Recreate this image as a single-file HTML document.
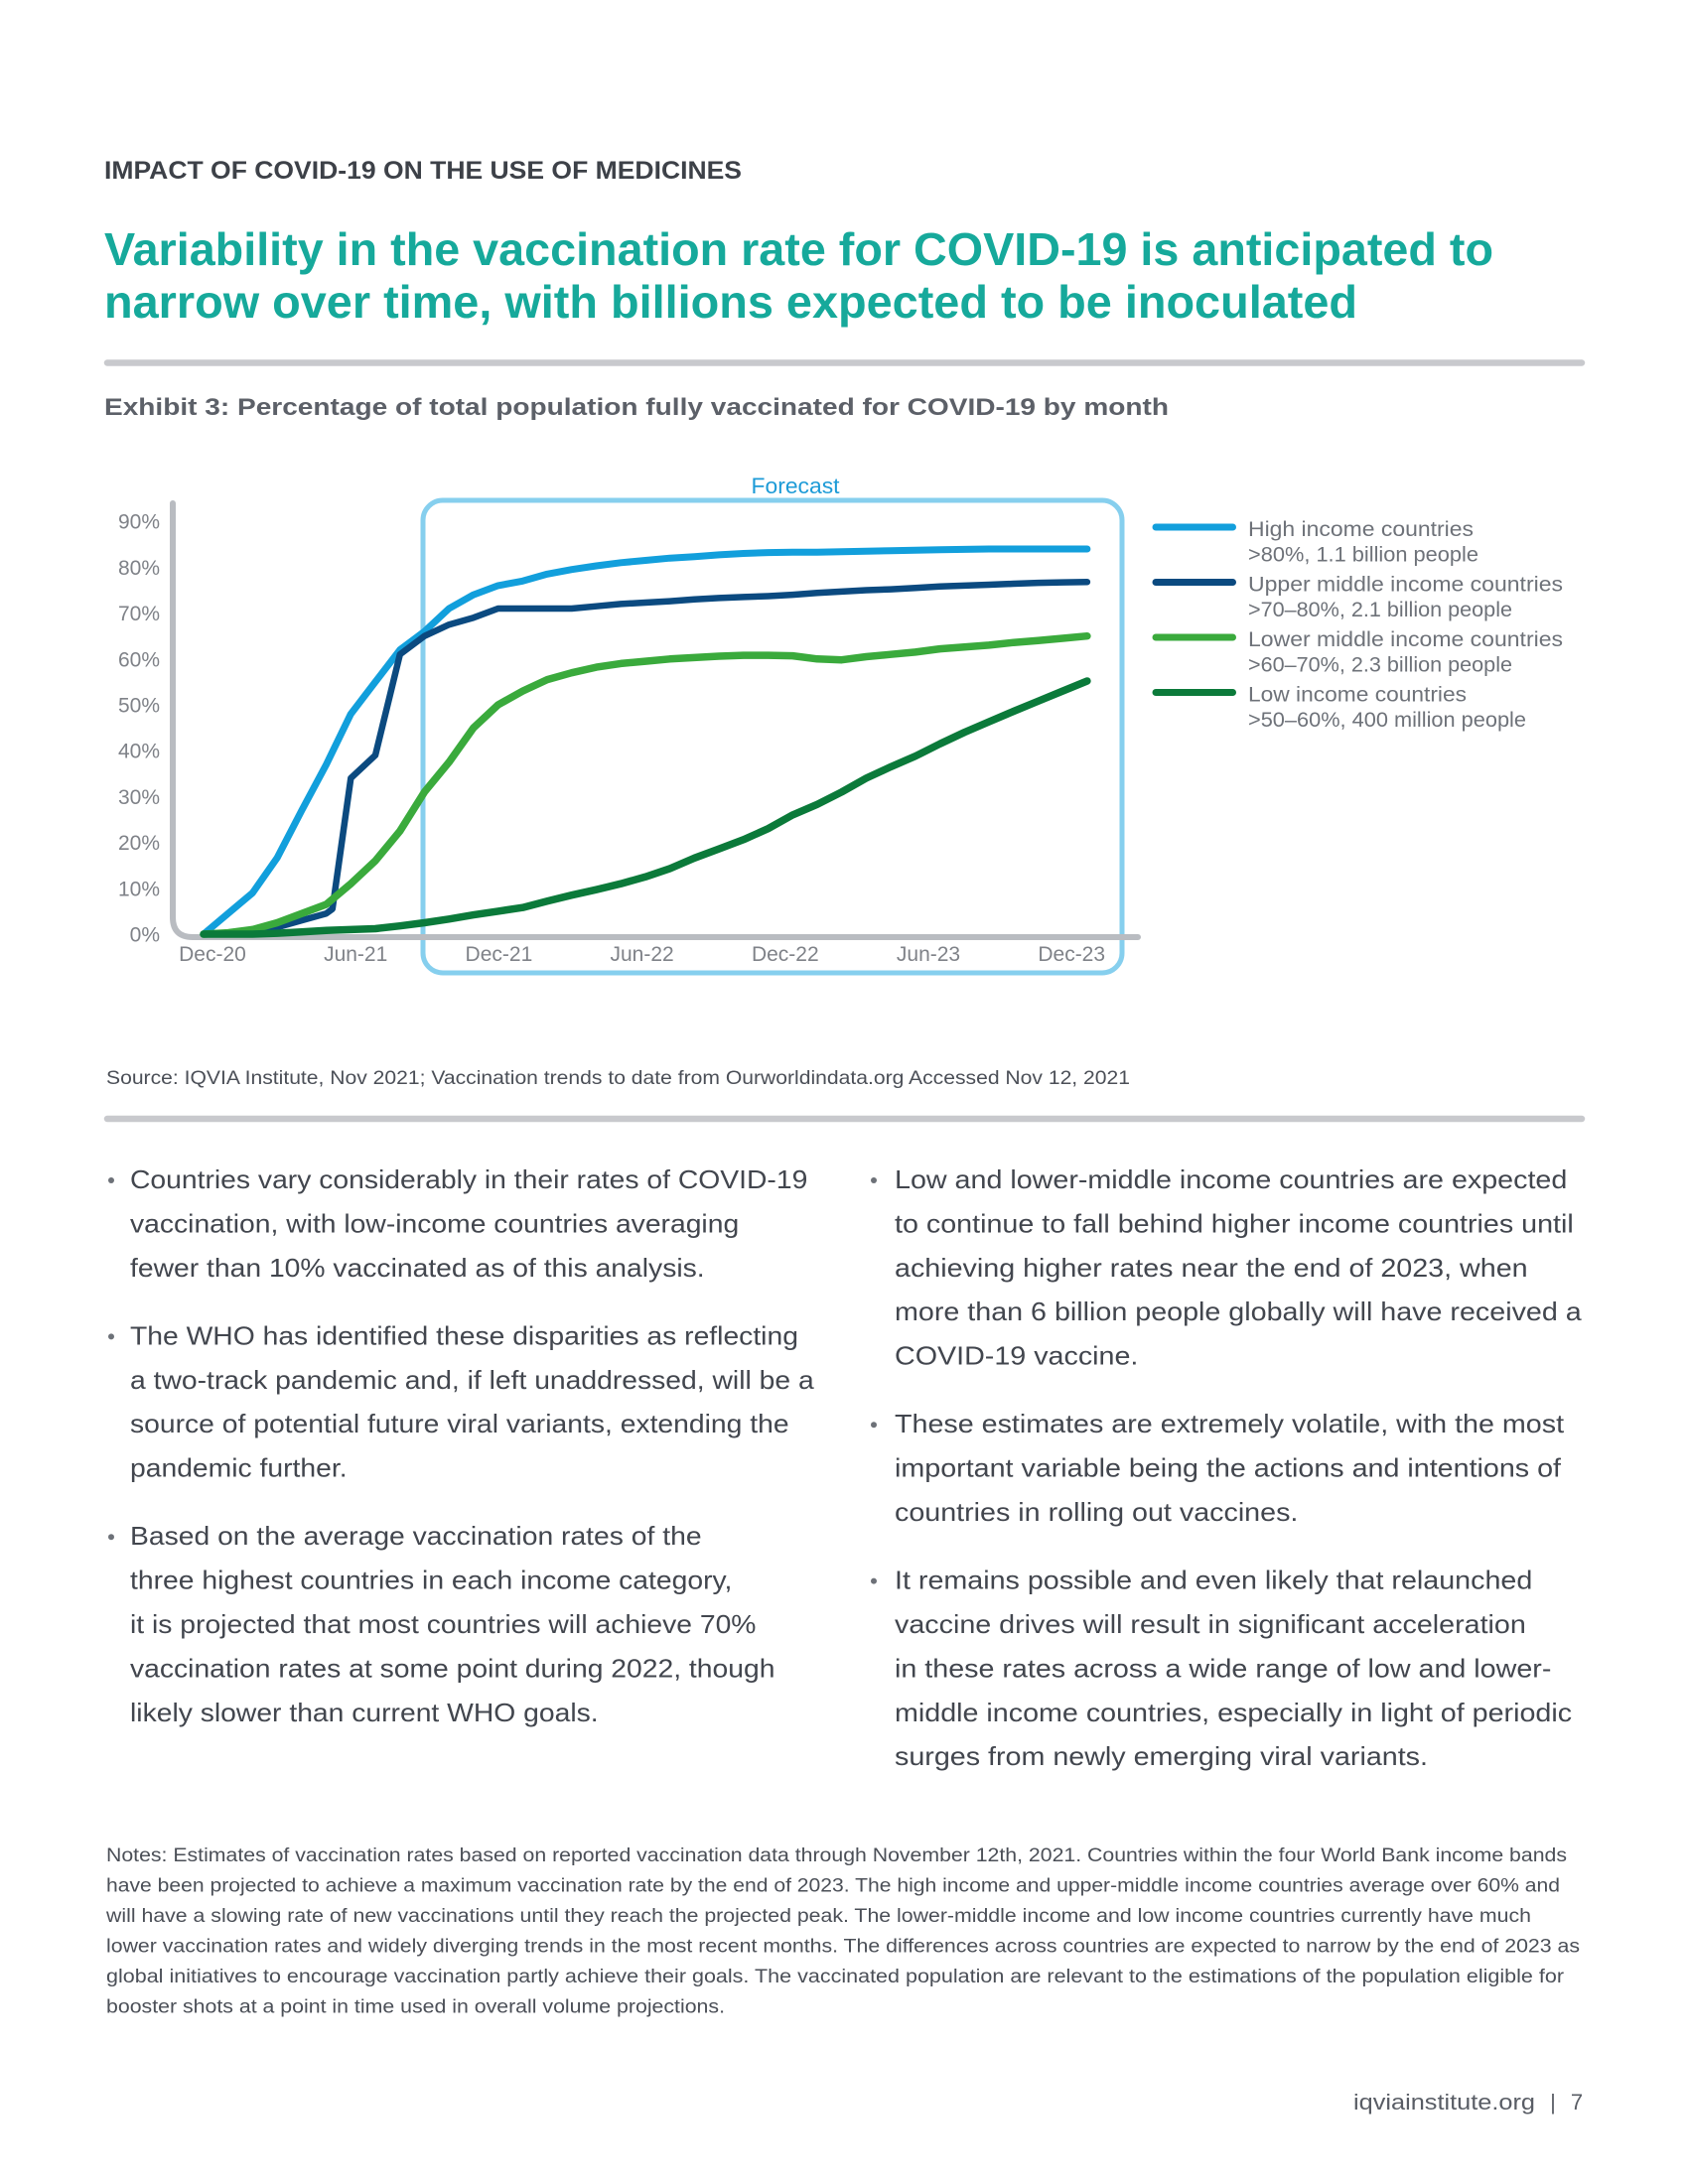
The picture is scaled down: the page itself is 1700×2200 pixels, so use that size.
<!DOCTYPE html>
<html>
<head>
<meta charset="utf-8">
<style>
html,body{margin:0;padding:0;background:#fff;}
svg{display:block;}
text{font-family:"Liberation Sans", Arial, sans-serif;}
</style>
</head>
<body>
<svg width="1700" height="2200" viewBox="0 0 1700 2200" xmlns="http://www.w3.org/2000/svg">
<rect width="1700" height="2200" fill="#ffffff"/>

<!-- Header -->
<text x="105" y="180" font-size="25" font-weight="bold" fill="#3d4148" textLength="642" lengthAdjust="spacingAndGlyphs">IMPACT OF COVID-19 ON THE USE OF MEDICINES</text>

<!-- Title -->
<text x="105" y="267" font-size="46" font-weight="bold" fill="#16a99b" textLength="1399" lengthAdjust="spacingAndGlyphs">Variability in the vaccination rate for COVID-19 is anticipated to</text>
<text x="105" y="320" font-size="46" font-weight="bold" fill="#16a99b" textLength="1262" lengthAdjust="spacingAndGlyphs">narrow over time, with billions expected to be inoculated</text>

<!-- Rule 1 -->
<line x1="108" y1="365.5" x2="1593" y2="365.5" stroke="#c8c9cd" stroke-width="6.5" stroke-linecap="round"/>

<!-- Exhibit title -->
<text x="105" y="418" font-size="24.5" font-weight="bold" fill="#5c6068" textLength="1072" lengthAdjust="spacingAndGlyphs">Exhibit 3: Percentage of total population fully vaccinated for COVID-19 by month</text>

<!-- Chart -->
<text x="801" y="497" font-size="22" fill="#1d9bd7" text-anchor="middle" textLength="89" lengthAdjust="spacingAndGlyphs">Forecast</text>

<!-- forecast box -->
<rect x="426" y="504" width="704" height="476" rx="20" ry="20" fill="none" stroke="#86cfee" stroke-width="5"/>

<!-- axes -->
<path d="M174,507 L174,924 Q174,944 194,944 L1146,944" fill="none" stroke="#b9bcc1" stroke-width="6" stroke-linecap="round" stroke-linejoin="round"/>

<!-- y labels -->
<g font-size="21" fill="#7f8288" text-anchor="end">
<text x="161" y="948.5">0%</text>
<text x="161" y="902.3">10%</text>
<text x="161" y="856.1">20%</text>
<text x="161" y="809.9">30%</text>
<text x="161" y="763.7">40%</text>
<text x="161" y="717.5">50%</text>
<text x="161" y="671.3">60%</text>
<text x="161" y="625.1">70%</text>
<text x="161" y="578.9">80%</text>
<text x="161" y="532.7">90%</text>
</g>

<!-- x labels -->
<g font-size="21" fill="#7f8288" text-anchor="middle">
<text x="214" y="968">Dec-20</text>
<text x="358.2" y="968">Jun-21</text>
<text x="502.4" y="968">Dec-21</text>
<text x="646.6" y="968">Jun-22</text>
<text x="790.8" y="968">Dec-22</text>
<text x="935" y="968">Jun-23</text>
<text x="1079.2" y="968">Dec-23</text>
</g>

<!-- series -->
<g fill="none" stroke-linecap="round" stroke-linejoin="round">
<polyline stroke="#129fdc" stroke-width="7" points="205,941 229.7,920.2 254.4,899.4 279.2,864 303.9,816.3 328.6,770.1 353.3,719.2 378,686.9 402.8,654.6 427.5,636.1 452.2,613 476.9,599.1 501.6,589.9 526.4,585.3 551.1,578.3 575.8,573.7 600.5,570 625.2,566.8 650,564.5 674.7,562.2 699.4,560.8 724.1,558.9 748.8,557.5 773.6,556.6 798.3,556.2 823,556.2 847.7,555.7 872.4,555.2 897.2,554.8 921.9,554.3 946.6,553.8 971.3,553.4 996,553 1020.8,553 1045.5,553 1070.2,553 1094.9,553"/>
<polyline stroke="#0b4a80" stroke-width="6.5" points="205,941 229.7,939.6 254.4,938.7 279.2,934.1 303.9,927.1 328.6,920.2 334.8,915.6 353.3,783.9 378,760.8 402.8,659.2 427.5,640.7 452.2,629.2 476.9,622.2 501.6,613 526.4,613 551.1,613 575.8,613 600.5,610.7 625.2,608.4 650,607 674.7,605.6 699.4,603.7 724.1,602.4 748.8,601.4 773.6,600.5 798.3,599.1 823,597.3 847.7,595.9 872.4,594.5 897.2,593.6 921.9,592.2 946.6,590.8 971.3,589.9 996,589 1020.8,588 1045.5,587.1 1070.2,586.6 1094.9,586.2"/>
<polyline stroke="#3aaa3c" stroke-width="7.5" points="205,941 229.7,939.6 254.4,936.4 279.2,929.5 303.9,920.2 328.6,911 353.3,890.2 378,867.1 402.8,837.1 427.5,797.8 452.2,767.8 476.9,733.1 501.6,710 526.4,696.1 551.1,684.6 575.8,677.7 600.5,672.1 625.2,668.4 650,666.1 674.7,663.8 699.4,662.4 724.1,661 748.8,660.1 773.6,660.1 798.3,660.6 823,663.8 847.7,664.7 872.4,661.5 897.2,659.2 921.9,656.9 946.6,653.6 971.3,651.8 996,649.9 1020.8,647.2 1045.5,645.3 1070.2,643 1094.9,640.7"/>
<polyline stroke="#0b7a3a" stroke-width="7.5" points="205,941 229.7,941 254.4,941 279.2,940.1 303.9,938.7 328.6,937.3 353.3,936.4 378,935.5 402.8,932.7 427.5,929.5 452.2,925.8 476.9,921.6 501.6,917.9 526.4,914.2 551.1,907.7 575.8,901.7 600.5,896.2 625.2,890.2 650,883.3 674.7,874.9 699.4,864.3 724.1,855.1 748.8,845.8 773.6,834.7 798.3,820.9 823,810.3 847.7,797.8 872.4,783.9 897.2,772.4 921.9,761.7 946.6,749.3 971.3,737.7 996,727.1 1020.8,716.5 1045.5,706.3 1070.2,696.1 1094.9,686"/>
</g>

<!-- legend -->
<g stroke-width="7" stroke-linecap="round">
<line x1="1164" y1="531" x2="1241.5" y2="531" stroke="#129fdc"/>
<line x1="1164" y1="586.5" x2="1241.5" y2="586.5" stroke="#0b4a80"/>
<line x1="1164" y1="642" x2="1241.5" y2="642" stroke="#3aaa3c"/>
<line x1="1164" y1="697.5" x2="1241.5" y2="697.5" stroke="#0b7a3a"/>
</g>
<g font-size="21" fill="#6e7279">
<text x="1257" y="540" textLength="227" lengthAdjust="spacingAndGlyphs">High income countries</text>
<text x="1257" y="565.5" textLength="232" lengthAdjust="spacingAndGlyphs">&gt;80%, 1.1 billion people</text>
<text x="1257" y="595.5" textLength="317" lengthAdjust="spacingAndGlyphs">Upper middle income countries</text>
<text x="1257" y="621" textLength="266" lengthAdjust="spacingAndGlyphs">&gt;70–80%, 2.1 billion people</text>
<text x="1257" y="651" textLength="317" lengthAdjust="spacingAndGlyphs">Lower middle income countries</text>
<text x="1257" y="676.5" textLength="266" lengthAdjust="spacingAndGlyphs">&gt;60–70%, 2.3 billion people</text>
<text x="1257" y="706.5" textLength="220" lengthAdjust="spacingAndGlyphs">Low income countries</text>
<text x="1257" y="732" textLength="280" lengthAdjust="spacingAndGlyphs">&gt;50–60%, 400 million people</text>
</g>

<!-- Source -->
<text x="107" y="1092" font-size="19.5" fill="#4b4f57" textLength="1031" lengthAdjust="spacingAndGlyphs">Source: IQVIA Institute, Nov 2021; Vaccination trends to date from Ourworldindata.org Accessed Nov 12, 2021</text>

<!-- Rule 2 -->
<line x1="108" y1="1127" x2="1593" y2="1127" stroke="#c8c9cd" stroke-width="6.5" stroke-linecap="round"/>

<!-- Bullets -->
<g fill="#6d7178">
<circle cx="112" cy="1189" r="3"/>
<circle cx="112" cy="1346.4" r="3"/>
<circle cx="112" cy="1548.2" r="3"/>
<circle cx="880" cy="1189" r="3"/>
<circle cx="880" cy="1435.2" r="3"/>
<circle cx="880" cy="1592.6" r="3"/>
</g>

<!-- Left column -->
<g transform="translate(131 0) scale(1.11 1)" font-size="25.5" fill="#42464e">
<text x="0" y="1197">Countries vary considerably in their rates of COVID-19</text>
<text x="0" y="1241.4">vaccination, with low-income countries averaging</text>
<text x="0" y="1285.8">fewer than 10% vaccinated as of this analysis.</text>
<text x="0" y="1354.4">The WHO has identified these disparities as reflecting</text>
<text x="0" y="1398.8">a two-track pandemic and, if left unaddressed, will be a</text>
<text x="0" y="1443.2">source of potential future viral variants, extending the</text>
<text x="0" y="1487.6">pandemic further.</text>
<text x="0" y="1556.2">Based on the average vaccination rates of the</text>
<text x="0" y="1600.6">three highest countries in each income category,</text>
<text x="0" y="1645">it is projected that most countries will achieve 70%</text>
<text x="0" y="1689.4">vaccination rates at some point during 2022, though</text>
<text x="0" y="1733.8">likely slower than current WHO goals.</text>
</g>

<!-- Right column -->
<g transform="translate(901 0) scale(1.125 1)" font-size="25.5" fill="#42464e">
<text x="0" y="1197">Low and lower-middle income countries are expected</text>
<text x="0" y="1241.4">to continue to fall behind higher income countries until</text>
<text x="0" y="1285.8">achieving higher rates near the end of 2023, when</text>
<text x="0" y="1330.2">more than 6 billion people globally will have received a</text>
<text x="0" y="1374.6">COVID-19 vaccine.</text>
<text x="0" y="1443.2">These estimates are extremely volatile, with the most</text>
<text x="0" y="1487.6">important variable being the actions and intentions of</text>
<text x="0" y="1532">countries in rolling out vaccines.</text>
<text x="0" y="1600.6">It remains possible and even likely that relaunched</text>
<text x="0" y="1645">vaccine drives will result in significant acceleration</text>
<text x="0" y="1689.4">in these rates across a wide range of low and lower-</text>
<text x="0" y="1733.8">middle income countries, especially in light of periodic</text>
<text x="0" y="1778.2">surges from newly emerging viral variants.</text>
</g>

<!-- Notes -->
<g font-size="19" fill="#4b4f57">
<text x="107" y="1875" textLength="1471" lengthAdjust="spacingAndGlyphs">Notes: Estimates of vaccination rates based on reported vaccination data through November 12th, 2021. Countries within the four World Bank income bands</text>
<text x="107" y="1905.5" textLength="1464" lengthAdjust="spacingAndGlyphs">have been projected to achieve a maximum vaccination rate by the end of 2023. The high income and upper-middle income countries average over 60% and</text>
<text x="107" y="1936" textLength="1435" lengthAdjust="spacingAndGlyphs">will have a slowing rate of new vaccinations until they reach the projected peak. The lower-middle income and low income countries currently have much</text>
<text x="107" y="1966.5" textLength="1484" lengthAdjust="spacingAndGlyphs">lower vaccination rates and widely diverging trends in the most recent months. The differences across countries are expected to narrow by the end of 2023 as</text>
<text x="107" y="1997" textLength="1468" lengthAdjust="spacingAndGlyphs">global initiatives to encourage vaccination partly achieve their goals. The vaccinated population are relevant to the estimations of the population eligible for</text>
<text x="107" y="2027.5" textLength="623" lengthAdjust="spacingAndGlyphs">booster shots at a point in time used in overall volume projections.</text>
</g>

<!-- Footer -->
<g font-size="22" fill="#595d65">
<text x="1363" y="2125" textLength="183" lengthAdjust="spacingAndGlyphs">iqviainstitute.org</text>
<text x="1564" y="2125" text-anchor="middle">|</text>
<text x="1588" y="2125" text-anchor="middle">7</text>
</g>
</svg>
</body>
</html>
